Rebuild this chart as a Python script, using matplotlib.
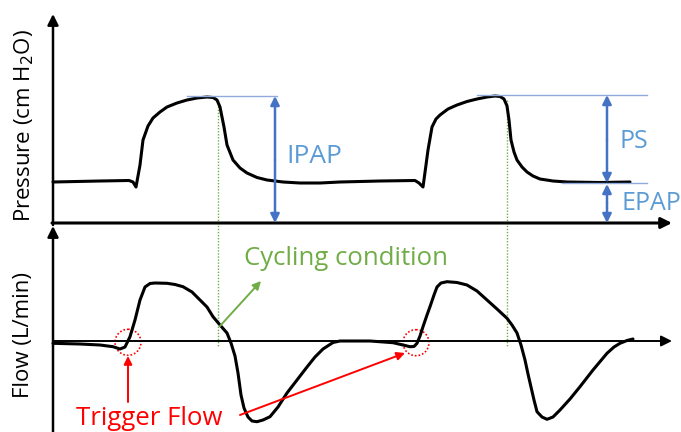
import numpy as np
import matplotlib.pyplot as plt

# pressure waveform (x, y) in picture units, two breaths
press_x = [53, 100, 129, 133, 136, 140, 143, 148, 153, 160, 167, 177, 187, 197, 207, 213, 217, 220, 222, 224,
           227, 233, 240, 247, 257, 267, 283, 300, 320, 340, 380, 415, 419, 423, 426, 428, 432, 436, 440, 448,
           457, 467, 477, 487, 495, 500, 504, 507, 509, 511, 514, 517, 522, 527, 533, 540, 553, 567, 600, 630]
press_y = [182, 181, 180.5, 182, 187, 165, 140, 126, 118, 112, 107, 103, 100, 98, 97, 97.5, 100, 107, 117, 127,
           145, 160, 168, 173, 177.5, 180, 182, 183, 183, 182, 181, 180.5, 183, 187, 165, 150, 127, 119, 115, 109,
           105, 101.5, 99, 97, 96, 96.5, 99, 106, 120, 140, 152, 160, 167, 172, 176, 179, 181, 182, 182.5, 182]

# flow waveform
flow_x = [53, 80, 100, 113, 120, 125, 130, 135, 140, 145, 150, 155, 167, 175, 183, 192, 200, 207, 213, 220, 227,
          231, 235, 238, 241, 244, 248, 252, 257, 263, 270, 278, 287, 297, 307, 315, 323, 333, 340,
          370, 393, 403, 410, 414, 417, 420, 423, 427, 430, 434, 437, 441, 447, 457, 467, 477, 487, 497, 507,
          512, 517, 521, 525, 528, 531, 534, 537, 542, 547, 553, 560, 570, 580, 593, 607, 614, 620, 627, 633]
flow_y = [343.3, 344, 345, 346.7, 349, 347, 336.7, 320, 300, 287, 283.5, 283, 283.3, 284.5, 286.7, 292, 300, 307,
          316.7, 325, 333, 343, 356, 373, 395, 408, 417, 421, 421.7, 420, 416.7, 407, 393, 380, 367, 357, 349,
          342.5, 341, 341, 342.7, 345, 346.7, 346.5, 343.3, 336, 326.7, 315, 306.7, 295, 287, 283, 281.7, 282.5,
          285, 291, 300, 309, 318.3, 325, 333, 345, 360, 374, 387, 400, 411.7, 417, 419.3, 417, 410, 399, 386.7,
          370, 353.3, 347, 343.3, 340.5, 339]

ipap_level = 96
epap_level = 183
cycle_x = [218, 507]
trigger_xy = [(128, 342.3), (416, 342.7)]

plt.rcParams['font.family'] = ['Open Sans', 'DejaVu Sans']
fig = plt.figure(figsize=(6.81, 4.32), dpi=100)
ax = fig.add_axes([0, 0, 1, 1])
ax.set_xlim(0, 681)
ax.set_ylim(432, 0)
ax.axis('off')

blue_txt = '#5B9BD5'
blue_arr = '#4472C4'
green = '#70AD47'
red = '#FF0000'

def arrow(x0, y0, x1, y1, color='black', lw=2.0, style='-|>', ms=16):
    ax.annotate('', xy=(x1, y1), xytext=(x0, y0),
                arrowprops=dict(arrowstyle=style, color=color, lw=lw, mutation_scale=ms,
                                shrinkA=0, shrinkB=0))

# axes of the two panels
arrow(53, 225, 53, 14, lw=1.8)
arrow(52, 223, 672, 223, lw=2.2)
arrow(53, 432, 53, 226, lw=1.8)
arrow(53, 341, 672, 341, lw=1.4)

# cycling condition dotted lines
for cx in cycle_x:
    ax.plot([cx, cx], [100, 347], color=green, lw=1.0, ls=(0, (1, 1.2)))

# waveforms
ax.plot(press_x, press_y, color='black', lw=2.2, solid_joinstyle='round', solid_capstyle='round')
ax.plot(flow_x, flow_y, color='black', lw=2.2, solid_joinstyle='round', solid_capstyle='round')

# pressure levels
ax.plot([187, 277], [ipap_level, ipap_level], color='#8FAADC', lw=1.0)
ax.plot([477, 647], [ipap_level - 1, ipap_level - 1], color='#8FAADC', lw=1.0)
ax.plot([562, 647], [epap_level, epap_level], color='#8FAADC', lw=1.0)
arrow(275, 160, 275, ipap_level, color=blue_arr, lw=1.8, ms=13)
arrow(275, 160, 275, 223, color=blue_arr, lw=1.8, ms=13)
arrow(607, 140, 607, ipap_level - 1, color=blue_arr, lw=1.8, ms=13)
arrow(607, 140, 607, epap_level, color=blue_arr, lw=1.8, ms=13)
arrow(607, 203, 607, epap_level + 1, color=blue_arr, lw=1.8, ms=13)
arrow(607, 203, 607, 223, color=blue_arr, lw=1.8, ms=13)

ax.text(286, 163, 'IPAP', color=blue_txt, fontsize=19, va='baseline', ha='left')
ax.text(620, 148, 'PS', color=blue_txt, fontsize=18, va='baseline', ha='left')
ax.text(621, 210, 'EPAP', color=blue_txt, fontsize=18, va='baseline', ha='left')

# cycling condition
ax.text(244, 265, 'Cycling condition', color=green, fontsize=18.5, va='baseline', ha='left')
arrow(220, 326, 261, 281, color=green, lw=1.4, ms=12)

# trigger flow
for tx, ty in trigger_xy:
    circ = plt.Circle((tx, ty), 13, fill=False, color=red, lw=1.2, ls=(0, (1, 1.2)))
    ax.add_patch(circ)
arrow(128, 402, 128, 356, color=red, lw=1.4, ms=12)
arrow(240, 415, 405, 353, color=red, lw=1.4, ms=12)
ax.text(76, 425, 'Trigger Flow', color=red, fontsize=18.5, va='baseline', ha='left')

# y labels
ax.text(24, 126, 'Pressure (cm H$_2$O)', fontsize=16, rotation=90, va='center', ha='center')
ax.text(24, 335, 'Flow (L/min)', fontsize=16, rotation=90, va='center', ha='center')

fig.savefig('out.png', dpi=100)
